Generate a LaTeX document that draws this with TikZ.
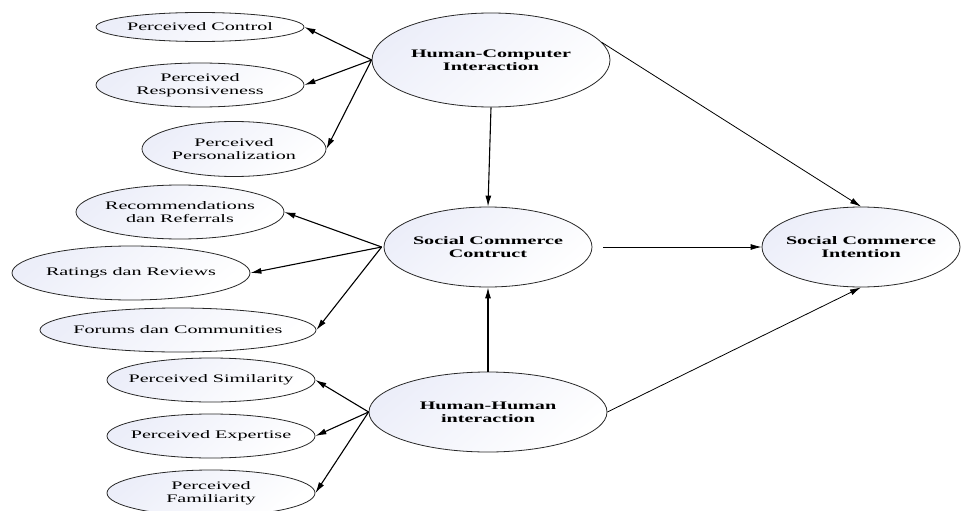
\documentclass[tikz,border=0pt]{standalone}
\usepackage{fontspec}
\setmainfont{Liberation Serif}[FakeStretch=1.75]
\usetikzlibrary{shapes.geometric,arrows.meta}
\definecolor{shadec}{RGB}{236,238,249}
\definecolor{edgec}{RGB}{40,40,40}
\tikzset{
  oval/.style={ellipse, draw=edgec, line width=0.8pt, inner sep=0pt,
    top color=shadec, bottom color=white, shading angle=40},
  txt/.style={align=center, inner sep=0pt, font=\fontsize{11.5}{13.5}\selectfont},
  btxt/.style={align=center, inner sep=0pt, font=\fontsize{11.5}{13}\selectfont\bfseries},
  arr/.style={-{Latex[length=11pt,width=6pt]}, line width=1.1pt},
  thinarr/.style={-{Latex[length=11pt,width=6pt]}, line width=0.8pt}
}
\begin{document}
\begin{tikzpicture}[x=1pt,y=-1pt]
\useasboundingbox[fill=white] (0,0) rectangle (961,511);
% main constructs
\node[oval, minimum width=238pt, minimum height=94pt, label={[btxt]center:Human-Computer\\Interaction}] (hci) at (491,60) {};
\node[oval, minimum width=208pt, minimum height=80pt, label={[btxt]center:Social Commerce\\Contruct}] (scc) at (488,247) {};
\node[oval, minimum width=238pt, minimum height=80pt, label={[btxt]center:Human-Human\\interaction}] (hhi) at (488,412) {};
\node[oval, minimum width=198pt, minimum height=80pt, label={[btxt]center:Social Commerce\\Intention}] (sci) at (861,247) {};
% indicators
\node[oval, minimum width=208pt, minimum height=29pt, label={[txt]center:Perceived Control}] (pc) at (200,27) {};
\node[oval, minimum width=208pt, minimum height=44pt, label={[txt]center:Perceived\\Responsiveness}] (pr) at (200,85) {};
\node[oval, minimum width=184pt, minimum height=55pt, label={[txt]center:Perceived\\Personalization}] (pp) at (234,149) {};
\node[oval, minimum width=208pt, minimum height=54pt, label={[txt]center:Recommendations\\dan Referrals}] (rr) at (180,212) {};
\node[oval, minimum width=238pt, minimum height=54pt, label={[txt]center:Ratings dan Reviews}] (rv) at (131,273) {};
\node[oval, minimum width=276pt, minimum height=44pt, label={[txt]center:Forums dan Communities}] (fc) at (178,330) {};
\node[oval, minimum width=208pt, minimum height=44pt, label={[txt]center:Perceived Similarity}] (ps) at (211,380) {};
\node[oval, minimum width=208pt, minimum height=44pt, label={[txt]center:Perceived Expertise}] (pe) at (211,436) {};
\node[oval, minimum width=208pt, minimum height=46pt, label={[txt]center:Perceived\\Familiarity}] (pf) at (211,493) {};
% indicator arrows
\draw[arr] (hci.west) -- (pc.east);
\draw[arr] (hci.west) -- (pr.east);
\draw[arr] (hci.west) -- (pp.east);
\draw[arr] ([xshift=-2pt]scc.west) -- (rr.east);
\draw[arr] ([xshift=-2pt]scc.west) -- (rv.east);
\draw[arr] ([xshift=-2pt]scc.west) -- (fc.east);
\draw[arr] (hhi.west) -- (ps.east);
\draw[arr] (hhi.west) -- (pe.east);
\draw[arr] (hhi.west) -- (pf.east);
% structural arrows
\draw[arr] (hci.south) -- (scc.north);
\draw[arr] (hhi.north) -- (scc.south);
\draw[thinarr] (hci.9) -- (sci.north);
\draw[thinarr] ([xshift=11pt]scc.east) -- (sci.west);
\draw[thinarr] (hhi.east) -- (sci.south);
\end{tikzpicture}
\end{document}
